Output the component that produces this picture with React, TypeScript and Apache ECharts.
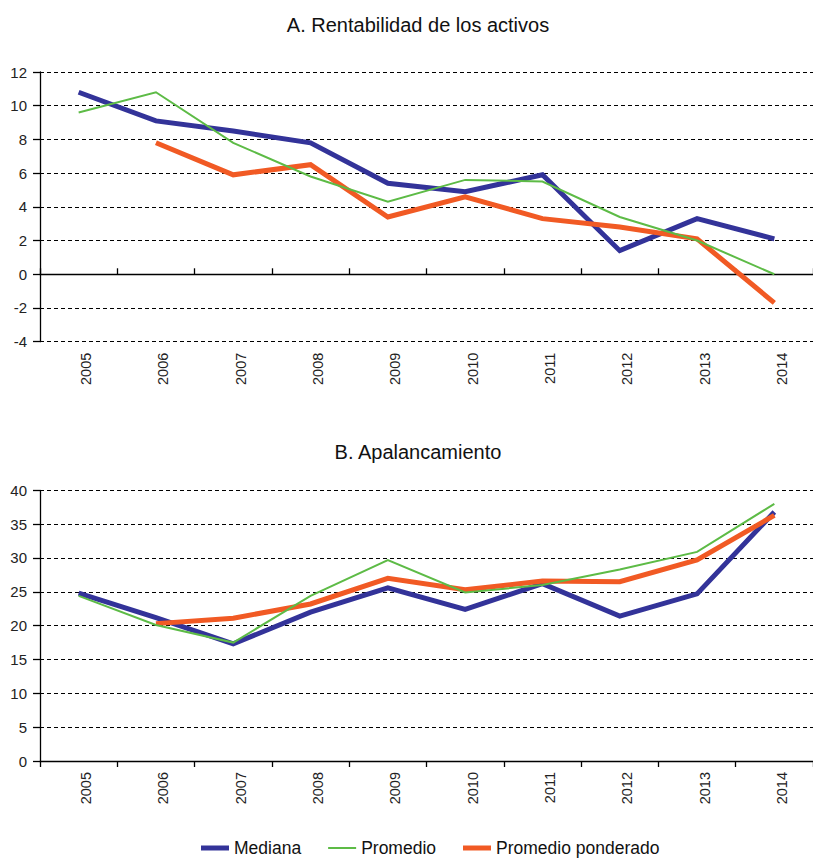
import React, { useEffect, useRef } from "react";
import * as echarts from "echarts";

const years = ["2005", "2006", "2007", "2008", "2009", "2010", "2011", "2012", "2013", "2014"];

const roaMediana = [10.8, 9.1, 8.5, 7.8, 5.4, 4.9, 5.9, 1.4, 3.3, 2.1];
const roaPromedio = [9.6, 10.8, 7.8, 5.8, 4.3, 5.6, 5.5, 3.4, 2.0, 0.0];
const roaPonderado = [null, 7.8, 5.9, 6.5, 3.4, 4.6, 3.3, 2.8, 2.1, -1.7];

const levMediana = [24.8, 21.2, 17.3, 22.0, 25.6, 22.4, 26.2, 21.4, 24.7, 36.8];
const levPromedio = [24.4, 20.1, 17.5, 24.4, 29.7, 24.9, 26.0, 28.3, 30.9, 38.0];
const levPonderado = [null, 20.3, 21.1, 23.2, 27.0, 25.3, 26.6, 26.5, 29.7, 36.3];

const titles = ["A. Rentabilidad de los activos", "B. Apalancamiento"];
const seriesNames = ["Mediana", "Promedio", "Promedio ponderado"];

const BLUE = "#333399";
const GREEN = "#5DBB46";
const ORANGE = "#F15A24";
const FONT = "Liberation Sans, Arial, sans-serif";
const THICK_ICON = "path://M0 0H28V5H0Z";
const THIN_ICON = "path://M0 0H28V2H0Z";

export default function App() {
  const ref = useRef<HTMLDivElement>(null);
  useEffect(() => {
    if (!ref.current) return;
    const chart = echarts.init(ref.current, undefined, { renderer: "svg" });
    const yAxisBase = {
      type: "value",
      axisLine: { show: true, lineStyle: { color: "#000", width: 1.3 } },
      axisTick: { show: true, length: 7, lineStyle: { color: "#000", width: 1.3 } },
      axisLabel: { color: "#222", fontSize: 15, fontFamily: FONT, margin: 13 },
      splitLine: { show: true, lineStyle: { color: "#000", type: [4, 3], width: 1 } },
    };
    const xLabel = {
      rotate: 90,
      color: "#222",
      fontSize: 14.5,
      fontFamily: FONT,
      margin: 11,
      verticalAlign: "top",
    };
    const mk = (name: string, data: any[], color: string, width: number, xi: number, yi: number) => ({
      type: "line",
      name,
      data,
      xAxisIndex: xi,
      yAxisIndex: yi,
      symbol: "none",
      showSymbol: false,
      lineStyle: { color, width, join: "miter", cap: "butt" },
      itemStyle: { color },
      z: width > 3 ? 3 : 4,
    });
    chart.setOption({
      animation: false,
      backgroundColor: "#fff",
      textStyle: { fontFamily: FONT },
      title: [
        {
          text: titles[0],
          left: 413,
          top: 10,
          textAlign: "center",
          textStyle: { fontSize: 20, fontWeight: "normal", color: "#111", fontFamily: FONT },
        },
        {
          text: titles[1],
          left: 413,
          top: 437,
          textAlign: "center",
          textStyle: { fontSize: 20, fontWeight: "normal", color: "#111", fontFamily: FONT },
        },
      ],
      legend: {
        data: [
          { name: seriesNames[0], icon: THICK_ICON },
          { name: seriesNames[1], icon: THIN_ICON },
          { name: seriesNames[2], icon: THICK_ICON },
        ],
        bottom: -4,
        left: 196,
        itemWidth: 28,
        itemHeight: 12,
        itemGap: 27,
        itemTextGap: 8,
        symbolKeepAspect: true,
        textStyle: { fontSize: 17.5, color: "#111", fontFamily: FONT },
      },
      grid: [
        { left: 40, top: 72, width: 779, height: 269.7 },
        { left: 40, top: 490.3, width: 779, height: 270.7 },
      ],
      xAxis: [
        {
          type: "category",
          gridIndex: 0,
          data: years,
          position: "bottom",
          axisLine: { show: false, onZero: false },
          axisTick: { show: false },
          axisLabel: xLabel,
        },
        {
          type: "category",
          gridIndex: 0,
          data: years,
          axisLine: { show: true, onZero: true, lineStyle: { color: "#000", width: 1.3 } },
          axisTick: { show: true, length: 6, lineStyle: { color: "#000", width: 1.3 } },
          axisLabel: { show: false },
        },
        {
          type: "category",
          gridIndex: 1,
          data: years,
          axisLine: { show: true, lineStyle: { color: "#000", width: 1.3 } },
          axisTick: { show: true, length: 6, lineStyle: { color: "#000", width: 1.3 } },
          axisLabel: xLabel,
        },
      ],
      yAxis: [
        { ...yAxisBase, gridIndex: 0, min: -4, max: 12, interval: 2 },
        { ...yAxisBase, gridIndex: 1, min: 0, max: 40, interval: 5 },
      ],
      series: [
        mk(seriesNames[0], roaMediana, BLUE, 5, 0, 0),
        mk(seriesNames[1], roaPromedio, GREEN, 2, 0, 0),
        mk(seriesNames[2], roaPonderado, ORANGE, 5, 0, 0),
        mk(seriesNames[0], levMediana, BLUE, 5, 2, 1),
        mk(seriesNames[1], levPromedio, GREEN, 2, 2, 1),
        mk(seriesNames[2], levPonderado, ORANGE, 5, 2, 1),
      ],
    });
    return () => chart.dispose();
  }, []);
  return (
    <div
      ref={ref}
      style={{ position: "fixed", left: 0, top: 0, width: 813, height: 858, background: "#fff" }}
    />
  );
}
